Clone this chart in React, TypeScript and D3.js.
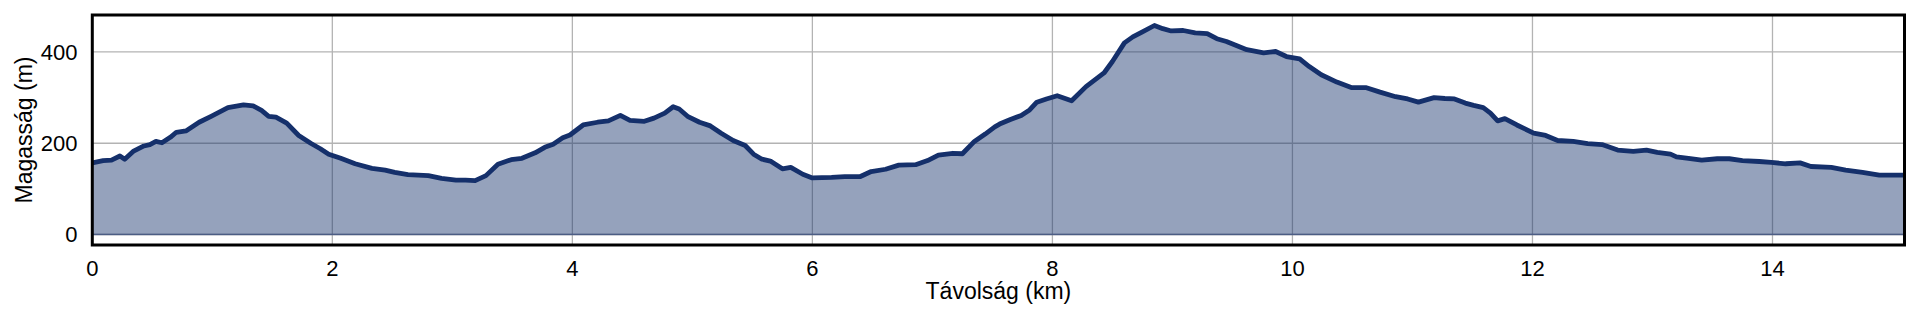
import React from "react";
import * as d3 from "d3";

const distanceKm = [
  0.0, 0.09, 0.16, 0.23, 0.27, 0.34, 0.43, 0.48, 0.53, 0.58, 0.65, 0.7, 0.78, 0.89, 0.99, 1.13, 1.26, 1.34, 1.41, 1.47,
  1.53, 1.62, 1.72, 1.82, 1.9, 1.97, 2.07, 2.19, 2.33, 2.44, 2.52, 2.63, 2.8, 2.91, 3.03, 3.11, 3.19, 3.28, 3.38, 3.49,
  3.58, 3.69, 3.77, 3.84, 3.92, 3.98, 4.09, 4.21, 4.3, 4.4, 4.48, 4.6, 4.68, 4.77, 4.84, 4.89, 4.96, 5.06, 5.15, 5.24,
  5.34, 5.44, 5.51, 5.58, 5.65, 5.75, 5.82, 5.92, 6.0, 6.16, 6.27, 6.4, 6.49, 6.61, 6.72, 6.86, 6.96, 7.05, 7.17, 7.25,
  7.35, 7.44, 7.52, 7.56, 7.65, 7.74, 7.81, 7.87, 7.95, 8.04, 8.16, 8.28, 8.43, 8.5, 8.6, 8.67, 8.75, 8.85, 8.92, 8.99,
  9.09, 9.19, 9.29, 9.37, 9.45, 9.62, 9.76, 9.86, 9.95, 10.06, 10.14, 10.24, 10.37, 10.49, 10.61, 10.73, 10.86, 10.96,
  11.05, 11.18, 11.27, 11.35, 11.44, 11.51, 11.59, 11.65, 11.71, 11.77, 11.87, 12.01, 12.11, 12.21, 12.34, 12.46, 12.58,
  12.71, 12.84, 12.95, 13.04, 13.15, 13.2, 13.3, 13.41, 13.54, 13.64, 13.75, 13.89, 13.99, 14.11, 14.23, 14.32, 14.49,
  14.61, 14.75, 14.89, 14.97, 15.1,
];

const elevationM = [
  157, 162, 163, 172, 165, 182, 194, 197, 204, 201, 213, 224, 227, 246, 259, 278, 284, 282, 272, 259,
  257, 244, 217, 200, 188, 176, 167, 155, 145, 141, 136, 131, 129, 123, 119, 119, 118, 129, 154, 164,
  167, 179, 191, 198, 212, 218, 240, 246, 249, 261, 250, 248, 255, 266, 280, 275, 259, 246, 238, 222,
  206, 195, 176, 165, 161, 144, 147, 132, 124, 125, 127, 127, 138, 143, 152, 153, 162, 174, 178, 177,
  204, 220, 236, 242, 252, 261, 273, 290, 297, 304, 293, 324, 354, 379, 420, 433, 444, 458, 451, 446,
  447, 442, 440, 429, 423, 405, 398, 401, 390, 385, 368, 350, 334, 322, 322, 312, 302, 297,
  290, 300, 298, 297, 288, 283, 278, 266, 249, 254, 240, 222, 217, 206, 204, 199, 197,
  185, 182, 185, 180, 176, 170, 167, 163, 166, 166, 162, 160, 158, 155, 157, 149, 147,
  141, 136, 130, 130, 130,
];

const xTicks = [0, 2, 4, 6, 8, 10, 12, 14];
const yTicks = [0, 200, 400];
const xLabel = "Távolság (km)";
const yLabel = "Magasság (m)";

export default function App() {
  const W = 1920;
  const H = 320;
  const left = 92.3;
  const right = 1904.5;
  const top = 15;
  const bottom = 245;

  const x = d3.scaleLinear().domain([0, 15.1]).range([left, right]);
  const y = d3.scaleLinear().domain([-23, 481]).range([bottom, top]);

  const pts: [number, number][] = distanceKm.map((d, i) => [d, elevationM[i]]);
  const area = d3
    .area<[number, number]>()
    .x((d) => x(d[0]))
    .y0(y(0))
    .y1((d) => y(d[1]))(pts) as string;
  const line = d3
    .line<[number, number]>()
    .x((d) => x(d[0]))
    .y((d) => y(d[1]))(pts) as string;

  const font = "'Liberation Sans', Arial, sans-serif";

  return (
    <svg
      width={W}
      height={H}
      style={{ position: "absolute", left: 0, top: 0, background: "#fff" }}
      fontFamily={font}
    >
      <defs>
        <clipPath id="plot">
          <rect x={left} y={top} width={right - left} height={bottom - top} />
        </clipPath>
      </defs>
      <rect x={0} y={0} width={W} height={H} fill="#fff" />
      <g stroke="#b3b3b3" strokeWidth={1.3}>
        {xTicks.map((t) => (
          <line key={"gx" + t} x1={x(t)} x2={x(t)} y1={top} y2={bottom} />
        ))}
        {yTicks.map((t) => (
          <line key={"gy" + t} x1={left} x2={right} y1={y(t)} y2={y(t)} />
        ))}
      </g>
      <g clipPath="url(#plot)">
        <path d={area} fill="rgb(21,48,107)" fillOpacity={0.45} stroke="none" />
        <line x1={left} x2={right} y1={y(0)} y2={y(0)} stroke="rgb(21,48,107)" strokeOpacity={0.55} strokeWidth={1.6} />
        <path d={line} fill="none" stroke="#15306b" strokeWidth={4.8} strokeLinejoin="round" strokeLinecap="round" />
      </g>
      <rect x={left} y={top} width={right - left} height={bottom - top} fill="none" stroke="#000" strokeWidth={3} />
      <g fontSize={22} fill="#000">
        {xTicks.map((t) => (
          <text key={"tx" + t} x={x(t)} y={275.5} textAnchor="middle">
            {t}
          </text>
        ))}
        {yTicks.map((t) => (
          <text key={"ty" + t} x={77.5} y={y(t) + 7.8} textAnchor="end">
            {t}
          </text>
        ))}
      </g>
      <text x={(left + right) / 2} y={299} textAnchor="middle" fontSize={23} fill="#000">
        {xLabel}
      </text>
      <text
        transform={`translate(31.5,${(top + bottom) / 2}) rotate(-90)`}
        textAnchor="middle"
        fontSize={23}
        fill="#000"
      >
        {yLabel}
      </text>
    </svg>
  );
}
